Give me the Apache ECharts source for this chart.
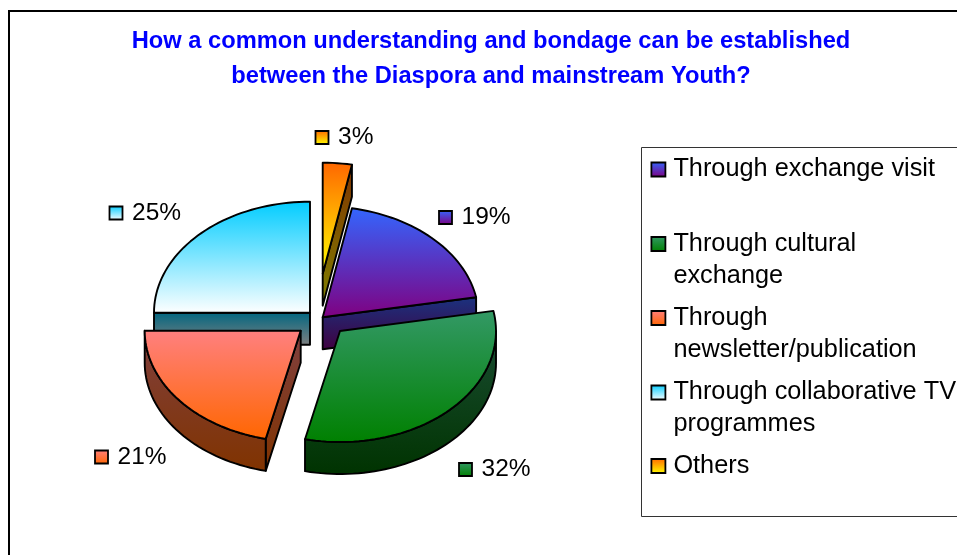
<!DOCTYPE html>
<html>
<head>
<meta charset="utf-8">
<style>
  html, body { margin: 0; padding: 0; background: #fff; overflow: hidden; }
  #chart { width: 957px; height: 555px; }
</style>
<script src="https://cdn.jsdelivr.net/npm/echarts@6/dist/echarts.min.js"></script>
</head>
<body>
<div id="chart"></div>
<script>
// chart data
const categories = [
  'Through exchange visit',
  'Through cultural exchange',
  'Through newsletter/publication',
  'Through collaborative TV programmes',
  'Others'
];
// labels show them rounded
const values = [19.1, 31.5, 21.4, 25, 3];
const legendLines = [
  ['Through exchange visit', ''],
  ['Through cultural', 'exchange'],
  ['Through', 'newsletter/publication'],
  ['Through collaborative TV', 'programmes'],
  ['Others', '']
];

// colours: top face and side wall gradients, top to bottom
const topColors = [
  ['#3366ff', '#800080'],
  ['#339966', '#008000'],
  ['#ff8080', '#ff6600'],
  ['#00ccff', '#ffffff'],
  ['#ff6600', '#ffff00']
];
const wallColors = [
  ['#1a3380', '#400040'],
  ['#1a4d33', '#003300'],
  ['#804040', '#803300'],
  ['#006680', '#808080'],
  ['#803300', '#808000']
];

// layout of the fake 3d pie
const FONT = '"Liberation Sans", Arial, sans-serif';
const CX = 316, CY = 322, RX = 156, RY = 111, DEPTH = 32, FIRST_ANGLE = 10.8;
const explode = [[6.7, -4.7], [24, 9], [-15.3, 8.7], [-6, -9.3], [6.7, -48.3]];
const drawOrder = [3, 5, 4, 1, 2];
const labelPos = [[445.5, 217.5], [465.5, 469.5], [101.5, 457], [116, 213], [322, 137.5]];
const legendCenterY = [169.5, 244, 318, 392.5, 466];

const total = values.reduce((a, b) => a + b, 0);

function gradient(c) {
  return new echarts.graphic.LinearGradient(0, 0, 0, 1, [
    { offset: 0, color: c[0] },
    { offset: 1, color: c[1] }
  ]);
}

function ringPoint(i, deg, drop) {
  const t = deg * Math.PI / 180;
  return [
    CX + explode[i][0] + RX * Math.sin(t),
    CY + explode[i][1] - RY * Math.cos(t) + (drop || 0)
  ];
}

function arcPoints(i, from, to, drop) {
  const pts = [];
  const steps = Math.max(2, Math.ceil(Math.abs(to - from) / 2));
  for (let s = 0; s <= steps; s++) {
    pts.push(ringPoint(i, from + (to - from) * s / steps, drop));
  }
  return pts;
}

function sliceElements(i, value) {
  const before = values.slice(0, i).reduce((a, b) => a + b, 0);
  const start = FIRST_ANGLE + before / total * 360;
  const end = start + value / total * 360;
  const apex = [CX + explode[i][0], CY + explode[i][1]];
  const outline = { stroke: '#000', lineWidth: 1.9, lineJoin: 'round' };
  const children = [];

  function wall(points) {
    children.push({
      type: 'polygon',
      shape: { points: points },
      style: Object.assign({ fill: gradient(wallColors[i]) }, outline)
    });
  }

  // radial cut faces, only when they face the viewer
  const s = Math.sin(start * Math.PI / 180);
  const e = Math.sin(end * Math.PI / 180);
  if (s < -0.001) {
    wall([apex, ringPoint(i, start), ringPoint(i, start, DEPTH), [apex[0], apex[1] + DEPTH]]);
  }
  if (e > 0.001) {
    wall([apex, ringPoint(i, end), ringPoint(i, end, DEPTH), [apex[0], apex[1] + DEPTH]]);
  }

  // outer wall, front half of the ellipse
  const from = Math.max(start, 90), to = Math.min(end, 270);
  if (to > from) {
    wall(arcPoints(i, from, to, 0).concat(arcPoints(i, to, from, DEPTH)));
  }

  children.push({
    type: 'polygon',
    shape: { points: [apex].concat(arcPoints(i, start, end, 0)) },
    style: Object.assign({ fill: gradient(topColors[i]) }, outline)
  });

  // data label with legend key
  const lp = labelPos[i];
  children.push({
    type: 'rect',
    shape: { x: lp[0] - 6.5, y: lp[1] - 6.5, width: 13, height: 13 },
    style: { fill: gradient(topColors[i]), stroke: '#000', lineWidth: 1.8 }
  });
  children.push({
    type: 'text',
    style: {
      x: lp[0] + 16,
      y: lp[1],
      text: Math.round(value / total * 100) + '%',
      fill: '#000',
      font: '24.5px ' + FONT,
      verticalAlign: 'middle'
    }
  });

  return { type: 'group', children: children };
}

const series = categories.map((name, i) => ({
  type: 'custom',
  name: name,
  coordinateSystem: 'none',
  z: drawOrder[i],
  silent: true,
  itemStyle: { color: gradient(topColors[i]) },
  data: [[values[i]]],
  renderItem: (params, api) => sliceElements(i, api.value(0))
}));

// one legend per entry so the uneven row spacing can be kept
const legends = categories.map((name, i) => ({
  data: [name],
  left: 650.5,
  top: legendCenterY[i] - 50.5,
  padding: 0,
  icon: 'rect',
  itemWidth: 14,
  itemHeight: 14,
  itemGap: 0,
  selectedMode: false,
  itemStyle: { borderColor: '#000', borderWidth: 1.8 },
  textStyle: { fontFamily: FONT, fontSize: 25.3, color: '#000', lineHeight: 32, padding: [0, 0, 5, 3] },
  // blank first line keeps the key level with the first row of text
  formatter: () => '\n' + legendLines[i][0] + '\n' + legendLines[i][1]
}));

const chart = echarts.init(document.getElementById('chart'), null, { renderer: 'canvas' });
chart.setOption({
  backgroundColor: '#fff',
  animation: false,
  title: {
    text: 'How a common understanding and bondage can be established\nbetween the Diaspora and mainstream Youth?',
    left: 486,
    top: 19,
    textAlign: 'center',
    textStyle: { fontFamily: FONT, fontSize: 23.7, fontWeight: 'bold', color: '#0000ff', lineHeight: 35 }
  },
  graphic: [
    {
      type: 'rect',
      z: -1,
      shape: { x: 9, y: 11, width: 1100, height: 700 },
      style: { fill: 'none', stroke: '#000', lineWidth: 2 }
    },
    {
      type: 'rect',
      z: -1,
      shape: { x: 641.5, y: 147.5, width: 400, height: 369 },
      style: { fill: 'none', stroke: '#333', lineWidth: 1 }
    }
  ],
  legend: legends,
  series: series
});
</script>
</body>
</html>
